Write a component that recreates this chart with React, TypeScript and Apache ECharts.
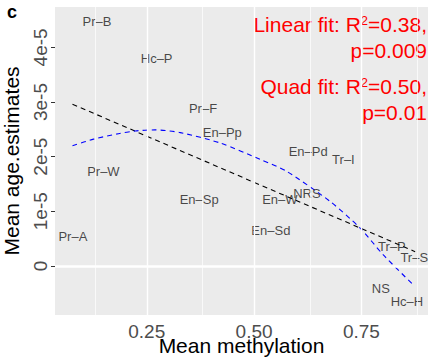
import React, { useEffect, useRef } from "react";
import * as echarts from "echarts";

// ---- data ----
const labelNames = ["Pr–B", "Hc–P", "Pr–F", "En–Pp", "Pr–W", "En–Sp", "Pr–A", "En–Pd", "Tr–I", "En–W", "NRS", "En–Sd", "Tr–P", "Tr–S", "NS", "Hc–H"];
const methylation = [0.134, 0.273, 0.381, 0.426, 0.149, 0.372, 0.078, 0.626, 0.708, 0.560, 0.623, 0.539, 0.821, 0.873, 0.795, 0.856];
const ageEstimates = [4.47e-5, 3.80e-5, 2.89e-5, 2.44e-5, 1.73e-5, 1.21e-5, 0.54e-5, 2.09e-5, 1.95e-5, 1.22e-5, 1.32e-5, 0.65e-5, 0.35e-5, 0.15e-5, -0.41e-5, -0.65e-5];

const linearX = [0.077, 0.875];
const linearY = [2.96e-5, 0.26e-5];

const quadX = [0.077, 0.126, 0.184, 0.223, 0.269, 0.328, 0.421, 0.514, 0.576, 0.677, 0.747, 0.801, 0.871];
const quadY = [2.20e-5, 2.32e-5, 2.42e-5, 2.47e-5, 2.49e-5, 2.44e-5, 2.25e-5, 1.95e-5, 1.73e-5, 1.18e-5, 0.69e-5, 0.20e-5, -0.35e-5];

const xTicks = [0.25, 0.5, 0.75];
const xMinor = [0.125, 0.375, 0.625, 0.875];
const yTicks = [0, 1e-5, 2e-5, 3e-5, 4e-5];
const yMinor = [-0.5e-5, 0.5e-5, 1.5e-5, 2.5e-5, 3.5e-5, 4.5e-5];

const xRange = [0.0363, 0.905];
const yRange = [-0.9e-5, 4.74e-5];

const statLines = [
  { text: "{n|Linear fit: R}{s|2}{n|=0.38,}", y: 24 },
  { text: "{n|p=0.009}", y: 50 },
  { text: "{n|Quad fit: R}{s|2}{n|=0.50,}", y: 86 },
  { text: "{n|p=0.01}", y: 112 },
];

const FONT = "'Liberation Sans', Arial, Helvetica, sans-serif";

export default function App() {
  const ref = useRef<HTMLDivElement>(null);
  useEffect(() => {
    document.body.style.margin = "0";
    const chart = echarts.init(ref.current!, null, { renderer: "svg" });
    const gridLine = (vals: number[], axis: "xAxis" | "yAxis", width: number) =>
      vals.map((v) => ({ [axis]: v, lineStyle: { color: "#ffffff", width, type: "solid" } }));

    chart.setOption({
      animation: false,
      textStyle: { fontFamily: FONT },
      grid: {
        left: 55,
        right: 2,
        top: 7,
        bottom: 44,
        show: true,
        backgroundColor: "#EBEBEB",
        borderWidth: 0,
        containLabel: false,
        outerBoundsMode: "none",
      },
      xAxis: {
        type: "value",
        min: xRange[0],
        max: xRange[1],
        name: "Mean methylation",
        nameLocation: "middle",
        nameGap: 20,
        nameMoveOverlap: false,
        nameTextStyle: { fontSize: 21, color: "#000", fontFamily: FONT },
        splitLine: { show: false },
        axisLine: { show: false },
        axisTick: { show: true, length: 4, lineStyle: { color: "#333", width: 1 }, customValues: xTicks },
        axisLabel: {
          customValues: xTicks,
          formatter: (v: number) => v.toFixed(2),
          fontSize: 19,
          color: "#4d4d4d",
          margin: 7,
          fontFamily: FONT,
        },
      },
      yAxis: {
        type: "value",
        min: yRange[0],
        max: yRange[1],
        name: "Mean age.estimates",
        nameLocation: "middle",
        nameGap: 33,
        nameMoveOverlap: false,
        nameTextStyle: { fontSize: 21, color: "#000", fontFamily: FONT },
        splitLine: { show: false },
        axisLine: { show: false },
        axisTick: { show: true, length: 4, lineStyle: { color: "#333", width: 1 }, customValues: yTicks },
        axisLabel: {
          customValues: yTicks,
          rotate: 90,
          formatter: (v: number) => (Math.abs(v) < 1e-12 ? "0" : Math.round(v * 1e5) + "e-5"),
          fontSize: 19,
          color: "#4d4d4d",
          margin: 5.5,
          fontFamily: FONT,
        },
      },
      series: [
        {
          type: "line",
          data: [],
          z: 1,
          silent: true,
          markLine: {
            silent: true,
            symbol: ["none", "none"],
            label: { show: false },
            animation: false,
            data: [
              ...gridLine(xMinor, "xAxis", 0.7),
              ...gridLine(yMinor, "yAxis", 0.7),
              ...gridLine(xTicks, "xAxis", 1.4),
              ...gridLine(yTicks, "yAxis", 1.4),
            ],
          },
        },
        {
          type: "line",
          z: 3,
          silent: true,
          symbol: "none",
          data: linearX.map((x, i) => [x, linearY[i]]),
          lineStyle: { color: "#000", width: 1.1, type: [5, 4] },
        },
        {
          type: "line",
          z: 3,
          silent: true,
          symbol: "none",
          smooth: 0.25,
          data: quadX.map((x, i) => [x, quadY[i]]),
          lineStyle: { color: "#0000ff", width: 1.1, type: [5, 4] },
        },
        {
          type: "scatter",
          z: 4,
          silent: true,
          symbolSize: 1,
          itemStyle: { color: "transparent" },
          data: methylation.map((x, i) => ({ value: [x, ageEstimates[i]], name: labelNames[i] })),
          label: {
            show: true,
            position: "inside",
            formatter: (p: any) => p.name,
            fontSize: 13,
            color: "#1a1a1a",
            fontFamily: FONT,
          },
        },
      ],
      graphic: [
        {
          type: "text",
          x: 7,
          y: 21,
          style: { text: "c", font: `bold 18px ${FONT}`, fill: "#000", verticalAlign: "bottom" },
        },
        ...statLines.map((l) => ({
          type: "text",
          x: 427,
          y: l.y,
          style: {
            text: l.text,
            align: "right",
            verticalAlign: "middle",
            fill: "#ff0000",
            rich: {
              n: { fontSize: 21, fill: "#ff0000", fontFamily: FONT },
              s: { fontSize: 13, fill: "#ff0000", fontFamily: FONT, verticalAlign: "top" },
            },
          },
        })),
      ],
    });
    return () => chart.dispose();
  }, []);
  return <div ref={ref} style={{ width: 430, height: 359 }} />;
}
